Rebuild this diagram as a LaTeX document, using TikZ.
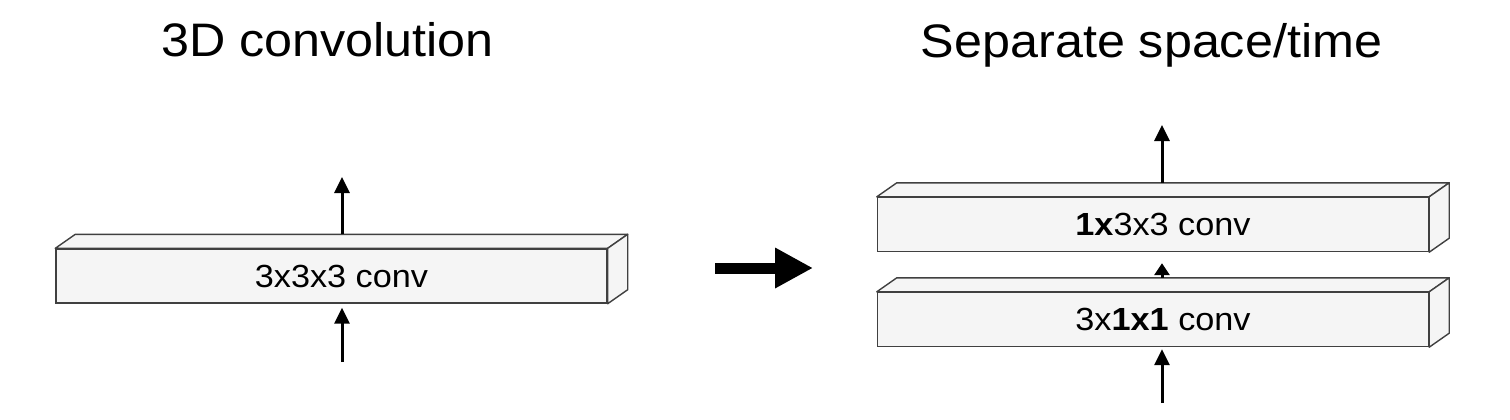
\documentclass[tikz,border=0pt]{standalone}
\usepackage{fontspec}
\setmainfont[FakeStretch=1.07]{Liberation Sans}
\usetikzlibrary{arrows.meta, calc, positioning}
\definecolor{boxfill}{HTML}{F5F5F5}
\definecolor{boxline}{HTML}{404040}

\begin{document}
\begin{tikzpicture}[x=1pt, y=-1pt,
        convbox/.style={rectangle, draw=boxline, fill=boxfill, line width=1.4pt, minimum width=551pt, minimum height=54pt, inner sep=0pt, font=\fontsize{32}{38}\selectfont, execute at begin node={\hspace*{20pt}}},
        face/.style={draw=boxline, fill=boxfill, line width=1.4pt, line join=round},
        flow/.style={line width=3pt, -{Triangle[length=16pt, width=15pt]}},
        title/.style={anchor=base, font=\fontsize{47}{56}\selectfont}]
        \useasboundingbox (0,0) rectangle (1510,420);

        % Titles
        \node[title] (t3d) at (327.5,57) {3D convolution};
        \node[title] (tsep) at (1151.5,58) {Separate space/time};

        % Boxes
        \node[convbox] (conv3d) at (331.5,276) {3x3x3 conv};
        \node[convbox] (convst) at (1153,319.5) {3x\textbf{1x1} conv};
        \node[convbox] (convts) at (1153,224.5) {\textbf{1x}3x3 conv};

        % Top and side faces
        \foreach \b in {conv3d, convst, convts} {
            \draw[face] (\b.north west) -- ++(20,-14) -- ($(\b.north east)+(20,-14)$) -- (\b.north east) -- cycle;
            \draw[face] (\b.north east) -- ++(20,-14) -- ($(\b.south east)+(20,-14)$) -- (\b.south east) -- cycle;
        }

        % Ends of the arrows
        \coordinate (in3d) at (342,362);
        \coordinate (out3d) at (342,177);
        \coordinate (insep) at (1162,403);
        \coordinate (outsep) at (1162,125);
        \coordinate (bigstart) at (715,268);
        \coordinate (bigend) at (813,268);

        % Arrows
        \draw[flow] (in3d) -- ([yshift=-4pt]in3d |- conv3d.south);
        \draw[flow] ([yshift=14pt]out3d |- conv3d.north) -- (out3d);
        \draw[flow] (insep) -- ([yshift=-2pt]insep |- convst.south);
        \draw[line width=3pt, -{Triangle[length=12pt, width=15pt]}] ([yshift=14pt]insep |- convst.north) -- ([yshift=-11pt]insep |- convts.south);
        \draw[flow] ([yshift=14pt]outsep |- convts.north) -- (outsep);
        \draw[line width=11pt, -{Triangle[length=38pt, width=38pt]}] (bigstart) -- (bigend);
    \end{tikzpicture}
\end{document}
